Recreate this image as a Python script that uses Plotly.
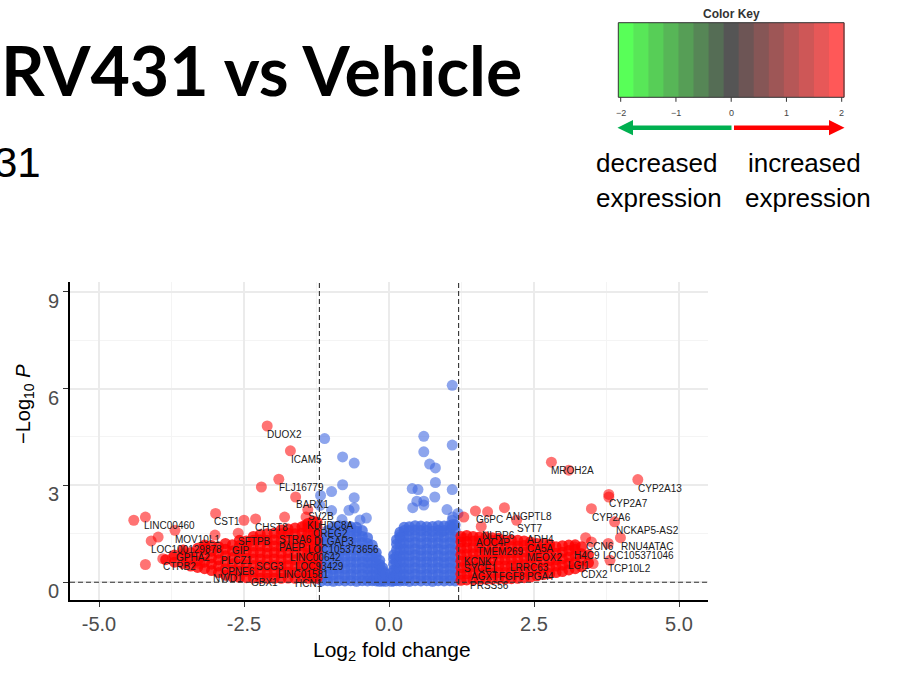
import plotly.graph_objects as go

# ---------------- data ----------------
x_tick_vals = [-5.0, -2.5, 0.0, 2.5, 5.0]
x_tick_text = ["-5.0", "-2.5", "0.0", "2.5", "5.0"]
y_tick_vals = [0, 3, 6, 9]
fc_cutoff = 1.2
p_line = 0.0

# isolated significant genes (red)
red_x = [-2.10, -1.70, -1.90, -2.20, -1.61, -1.40, -1.43, -1.80, -2.30, -2.50, -2.99, -2.60, -3.00,
         -4.40, -4.20, -3.69, -3.98, -4.10, -4.20, -3.90, -3.18, -3.26, -3.54, -1.45, -3.73, -3.49,
         2.80, 3.10, 4.29, 3.79, 3.79, 3.49, 3.89, 3.99, 3.39, 1.99, 1.70, 1.49, 1.29, 1.59, 2.20,
         1.29, 3.49, 3.78, 3.81, 3.52, 3.20]
red_y = [4.84, 4.07, 3.19, 2.95, 2.64, 2.25, 2.02, 2.02, 1.96, 1.92, 2.13, 1.52, 1.46,
         1.92, 2.02, 1.61, 1.40, 1.28, 0.55, 0.73, 1.11, 0.58, 0.89, 1.76, 0.77, 0.62,
         3.72, 3.47, 3.18, 2.72, 2.64, 2.28, 1.87, 1.38, 1.38, 2.31, 2.18, 2.21, 2.02, 1.73, 1.92,
         1.37, 1.25, 1.20, 0.68, 0.58, 1.09]

# dense cloud of significant genes (red), read column by column
red_cloud_x = [-3.85, -3.70, -3.55, -3.42, -3.30, -3.18, -3.06, -2.94, -2.82, -2.70, -2.58, -2.46,
               -2.34, -2.22, -2.10, -1.98, -1.86, -1.74, -1.62, -1.50, -1.40, -1.31, -1.24,
               1.24, 1.34, 1.45, 1.56, 1.67, 1.78, 1.89, 2.00, 2.11, 2.22, 2.33, 2.44, 2.55,
               2.66, 2.77, 2.88, 2.99, 3.10, 3.21, 3.32, 3.44]
red_cloud_y = [
    [0.70], [0.62, 0.84], [0.58, 0.80, 1.00], [0.50, 0.72, 0.92], [0.46, 0.66, 0.86, 1.05],
    [0.42, 0.62, 0.82, 1.02, 1.15], [0.36, 0.56, 0.76, 0.96, 1.14], [0.30, 0.50, 0.70, 0.90, 1.10],
    [0.22, 0.42, 0.62, 0.82, 1.02, 1.20], [0.17, 0.37, 0.57, 0.77, 0.97, 1.16],
    [0.15, 0.35, 0.55, 0.75, 0.95, 1.14, 1.30], [0.14, 0.34, 0.54, 0.74, 0.94, 1.12, 1.28],
    [0.13, 0.32, 0.52, 0.72, 0.92, 1.12, 1.30, 1.42], [0.12, 0.32, 0.52, 0.72, 0.92, 1.12, 1.32, 1.48],
    [0.12, 0.30, 0.50, 0.70, 0.90, 1.10, 1.30, 1.50], [0.12, 0.32, 0.52, 0.72, 0.92, 1.12, 1.32, 1.52],
    [0.12, 0.30, 0.50, 0.70, 0.90, 1.10, 1.30, 1.50, 1.62], [0.13, 0.32, 0.52, 0.72, 0.92, 1.12, 1.32, 1.52, 1.65],
    [0.12, 0.30, 0.50, 0.70, 0.90, 1.10, 1.30, 1.50, 1.68], [0.13, 0.32, 0.52, 0.72, 0.92, 1.12, 1.32, 1.52, 1.72],
    [0.12, 0.30, 0.50, 0.70, 0.90, 1.10, 1.30, 1.50, 1.70, 1.82],
    [0.13, 0.32, 0.52, 0.72, 0.92, 1.12, 1.32, 1.52, 1.72, 1.90],
    [0.12, 0.30, 0.50, 0.70, 0.90, 1.10, 1.30, 1.50, 1.70, 1.86],
    [0.06, 0.25, 0.45, 0.65, 0.85, 1.05, 1.25, 1.42], [0.07, 0.26, 0.46, 0.66, 0.86, 1.06, 1.26, 1.45],
    [0.08, 0.28, 0.48, 0.68, 0.88, 1.08, 1.28, 1.42], [0.09, 0.28, 0.48, 0.68, 0.88, 1.08, 1.28, 1.40],
    [0.10, 0.30, 0.50, 0.70, 0.90, 1.10, 1.30, 1.40], [0.10, 0.29, 0.49, 0.69, 0.89, 1.09, 1.29, 1.38],
    [0.11, 0.30, 0.50, 0.70, 0.90, 1.10, 1.30, 1.36], [0.10, 0.30, 0.50, 0.70, 0.90, 1.10, 1.30],
    [0.11, 0.31, 0.51, 0.71, 0.91, 1.11, 1.31], [0.12, 0.32, 0.52, 0.72, 0.92, 1.12, 1.30],
    [0.14, 0.34, 0.54, 0.74, 0.94, 1.14, 1.28], [0.16, 0.36, 0.56, 0.76, 0.96, 1.16, 1.25],
    [0.20, 0.40, 0.60, 0.80, 1.00, 1.20], [0.24, 0.44, 0.64, 0.84, 1.04, 1.20],
    [0.27, 0.47, 0.67, 0.87, 1.07, 1.18], [0.30, 0.50, 0.70, 0.90, 1.10], [0.33, 0.53, 0.73, 0.93, 1.13],
    [0.38, 0.58, 0.78, 0.98, 1.15], [0.42, 0.62, 0.82, 1.02, 1.16], [0.48, 0.68, 0.88, 1.10],
    [0.60, 0.85], [0.72, 0.98]]

# isolated non-significant genes (blue)
blue_x = [1.09, -1.11, -0.80, -0.60, 0.60, 0.60, 1.09, 0.70, 0.80, 0.80, 0.79, 1.09, -0.80, -0.99,
          -1.18, -0.60, 0.40, 0.50, 0.48, 0.60, 0.60, 0.41, 1.00, 1.19, -0.60, -0.69, -0.39, -0.50,
          -1.19, -0.99, -0.81, 1.09, 0.90, 1.09, 0.18, 1.10, 1.10]
blue_y = [6.10, 4.45, 3.88, 3.69, 4.52, 4.04, 4.25, 3.66, 3.54, 3.09, 2.64, 2.87, 3.02, 2.81,
          2.69, 2.62, 2.90, 2.87, 2.51, 2.51, 2.39, 2.31, 2.25, 2.13, 2.30, 2.23, 1.99, 1.93,
          2.38, 2.22, 1.94, 1.92, 1.56, 1.71, 1.46, 2.02, 1.79]

# dense cloud of non-significant genes (blue), read column by column
blue_cloud_x = [-1.16, -1.06, -0.96, -0.86, -0.76, -0.66, -0.56, -0.46, -0.37, -0.29, -0.22, -0.16,
                -0.11, -0.06, 0.04, 0.08, 0.13, 0.19, 0.26, 0.35, 0.45, 0.55, 0.65, 0.75, 0.85,
                0.95, 1.05, 1.14]
blue_cloud_y = [
    [0.04, 0.22, 0.42, 0.60, 0.80, 1.00, 1.20, 1.40],
    [0.05, 0.24, 0.44, 0.62, 0.83, 1.02, 1.22, 1.42, 1.60],
    [0.03, 0.23, 0.41, 0.61, 0.82, 1.01, 1.21, 1.40, 1.58, 1.72],
    [0.05, 0.25, 0.43, 0.63, 0.84, 1.03, 1.23, 1.43, 1.62, 1.75],
    [0.04, 0.22, 0.42, 0.62, 0.81, 1.00, 1.20, 1.41, 1.60, 1.74],
    [0.05, 0.24, 0.43, 0.63, 0.82, 1.02, 1.22, 1.42, 1.60, 1.72],
    [0.03, 0.23, 0.42, 0.62, 0.81, 1.01, 1.21, 1.40, 1.58, 1.70],
    [0.05, 0.24, 0.44, 0.63, 0.83, 1.03, 1.22, 1.42, 1.60],
    [0.04, 0.22, 0.42, 0.61, 0.80, 1.00, 1.20, 1.38],
    [0.05, 0.23, 0.43, 0.62, 0.82, 1.00, 1.15],
    [0.04, 0.22, 0.42, 0.60, 0.78, 0.92],
    [0.03, 0.20, 0.38, 0.55, 0.68],
    [0.04, 0.20, 0.36, 0.45],
    [0.03, 0.16, 0.26],
    [0.03, 0.15, 0.28],
    [0.04, 0.20, 0.38, 0.56, 0.72, 0.85],
    [0.05, 0.23, 0.42, 0.61, 0.80, 1.00, 1.18, 1.32],
    [0.04, 0.22, 0.42, 0.62, 0.81, 1.00, 1.20, 1.40, 1.55],
    [0.05, 0.24, 0.43, 0.63, 0.83, 1.02, 1.22, 1.42, 1.60, 1.70],
    [0.03, 0.23, 0.42, 0.62, 0.82, 1.01, 1.21, 1.41, 1.60, 1.72],
    [0.05, 0.25, 0.44, 0.64, 0.84, 1.03, 1.23, 1.43, 1.62, 1.75],
    [0.04, 0.22, 0.42, 0.62, 0.81, 1.00, 1.20, 1.41, 1.60, 1.74],
    [0.05, 0.24, 0.43, 0.63, 0.82, 1.02, 1.22, 1.42, 1.60, 1.72],
    [0.03, 0.23, 0.42, 0.62, 0.81, 1.01, 1.21, 1.40, 1.58, 1.73],
    [0.05, 0.24, 0.44, 0.63, 0.83, 1.03, 1.22, 1.42, 1.61, 1.75],
    [0.04, 0.22, 0.42, 0.61, 0.80, 1.00, 1.20, 1.40, 1.60, 1.74],
    [0.05, 0.23, 0.43, 0.62, 0.82, 1.02, 1.22, 1.42, 1.62, 1.76],
    [0.04, 0.22, 0.42, 0.60, 0.80, 1.00, 1.20, 1.40, 1.60, 1.78]]

# gene labels
gene_names = ["DUOX2", "ICAM5", "FLJ16779", "BARX1", "SV2B", "KLHDC8A", "CREG2", "DLGAP3",
              "LOC105373656", "LINC00642", "LOC93429", "LINC01581", "HCN1", "GBX1", "NWD1",
              "CPNE6", "SCG3", "PLCZ1", "GIP", "SFTPB", "STRA6", "PAEP", "CHST8", "CST1",
              "LINC00460", "MOV10L1", "LOC100129878", "GPHA2", "CTRB2",
              "MROH2A", "CYP2A13", "CYP2A7", "CYP2A6", "NCKAP5-AS2", "RNU4ATAC", "LOC105371046",
              "TCP10L2", "CDX2", "LGI1", "H4C9", "CCN6", "ADH4", "CA5A", "MEOX2", "LRRC63",
              "PGA4", "FGF8", "AGXT", "SYCE1", "KCNK7", "PRSS56", "TMEM269", "AOC4P", "NLRP6",
              "SYT7", "G6PC", "ANGPTL8"]
gene_x = [-1.80, -1.42, -1.51, -1.32, -1.18, -1.01, -1.01, -0.95,
          -0.78, -1.26, -1.19, -1.47, -1.38, -2.15, -2.77,
          -2.60, -2.06, -2.62, -2.55, -2.32, -1.61, -1.67, -2.02, -2.79,
          -3.78, -3.31, -3.49, -3.38, -3.61,
          3.17, 4.68, 4.13, 3.84, 4.46, 4.45, 4.31,
          4.15, 3.54, 3.28, 3.42, 3.63, 2.62, 2.61, 2.68, 2.43,
          2.62, 2.12, 1.65, 1.58, 1.59, 1.73, 1.92, 1.80, 1.88,
          2.43, 1.74, 2.41]
gene_y = [4.58, 3.81, 2.92, 2.41, 2.04, 1.76, 1.51, 1.25,
          1.01, 0.76, 0.50, 0.25, -0.04, -0.01, 0.11,
          0.32, 0.50, 0.68, 0.97, 1.25, 1.32, 1.07, 1.69, 1.87,
          1.76, 1.33, 1.01, 0.76, 0.50,
          3.47, 2.90, 2.44, 2.02, 1.61, 1.11, 0.83,
          0.42, 0.25, 0.53, 0.83, 1.11, 1.32, 1.06, 0.76, 0.47,
          0.19, 0.19, 0.19, 0.42, 0.63, -0.09, 0.94, 1.22, 1.46,
          1.68, 1.95, 2.04]

# colour key
key_ticks = [-2, -1, 0, 1, 2]
key_bands = 15

# ---------------- helpers (pixel placement of slide decorations) ----------------
PL, PR, PT, PB = 70, 708, 282, 600


def fx(px):
    return (px - PL) / (PR - PL)


def fy(py):
    return (PB - py) / (PB - PT)


def flatten(cols, ys):
    xs, yy = [], []
    for c, col in zip(cols, ys):
        for v in col:
            xs.append(c)
            yy.append(v)
    return xs, yy


bcx, bcy = flatten(blue_cloud_x, blue_cloud_y)
rcx, rcy = flatten(red_cloud_x, red_cloud_y)

BLUE = "#4169E1"
RED = "#FF0000"
MS = 11

fig = go.Figure()
fig.add_trace(go.Scatter(x=bcx, y=bcy, mode="markers",
                         marker=dict(color=BLUE, size=MS, opacity=0.8, line=dict(width=0)),
                         hoverinfo="skip"))
fig.add_trace(go.Scatter(x=blue_x, y=blue_y, mode="markers",
                         marker=dict(color=BLUE, size=MS, opacity=0.6, line=dict(width=0))))
fig.add_trace(go.Scatter(x=rcx, y=rcy, mode="markers",
                         marker=dict(color=RED, size=MS, opacity=0.8, line=dict(width=0)),
                         hoverinfo="skip"))
fig.add_trace(go.Scatter(x=red_x, y=red_y, mode="markers",
                         marker=dict(color=RED, size=MS, opacity=0.55, line=dict(width=0))))

shapes = []
# cut-off lines
for v in (-fc_cutoff, fc_cutoff):
    shapes.append(dict(type="line", xref="x", yref="paper", x0=v, x1=v, y0=0, y1=1,
                       line=dict(color="#333333", width=1.1, dash="5px,3px"), layer="above"))
shapes.append(dict(type="line", xref="paper", yref="y", x0=0, x1=1, y0=p_line, y1=p_line,
                   line=dict(color="#333333", width=1.1, dash="5px,3px"), layer="above"))

# colour key bar
kx0, kx1, ky0, ky1 = 618.3, 844.0, 22.7, 97.3
bw = (kx1 - kx0) / key_bands
green = (88, 255, 88)
grey = (85, 85, 85)
red = (255, 88, 88)
for i in range(key_bands):
    t = i / (key_bands - 1) * 2 - 1
    if t < 0:
        c = tuple(round(grey[k] + (-t) * (green[k] - grey[k])) for k in range(3))
    else:
        c = tuple(round(grey[k] + t * (red[k] - grey[k])) for k in range(3))
    shapes.append(dict(type="rect", xref="paper", yref="paper",
                       x0=fx(kx0 + i * bw), x1=fx(kx0 + (i + 1) * bw + 0.6),
                       y0=fy(ky1), y1=fy(ky0), line=dict(width=0),
                       fillcolor="rgb(%d,%d,%d)" % c))
shapes.append(dict(type="rect", xref="paper", yref="paper", x0=fx(kx0), x1=fx(kx1),
                   y0=fy(ky1), y1=fy(ky0), line=dict(color="#333333", width=1)))
tx0, tx1 = 620.7, 841.7
for v in key_ticks:
    px = tx0 + (v - key_ticks[0]) / (key_ticks[-1] - key_ticks[0]) * (tx1 - tx0)
    shapes.append(dict(type="line", xref="paper", yref="paper", x0=fx(px), x1=fx(px),
                       y0=fy(ky1), y1=fy(ky1 + 4.5), line=dict(color="#333333", width=1)))

# arrows
ay = 127.7
shapes.append(dict(type="line", xref="paper", yref="paper", x0=fx(631), x1=fx(731.5),
                   y0=fy(ay), y1=fy(ay), line=dict(color="#00B050", width=4.5)))
shapes.append(dict(type="path", xref="paper", yref="paper",
                   path="M %f,%f L %f,%f L %f,%f Z" % (fx(617.5), fy(ay), fx(633), fy(ay - 7.6),
                                                       fx(633), fy(ay + 7.6)),
                   fillcolor="#00B050", line=dict(width=0)))
shapes.append(dict(type="line", xref="paper", yref="paper", x0=fx(734), x1=fx(831),
                   y0=fy(ay), y1=fy(ay), line=dict(color="#FF0000", width=4.5)))
shapes.append(dict(type="path", xref="paper", yref="paper",
                   path="M %f,%f L %f,%f L %f,%f Z" % (fx(844.5), fy(ay), fx(829), fy(ay - 7.6),
                                                       fx(829), fy(ay + 7.6)),
                   fillcolor="#FF0000", line=dict(width=0)))

annotations = []
# gene labels
for n, gx, gy in zip(gene_names, gene_x, gene_y):
    annotations.append(dict(x=gx, y=gy, xref="x", yref="y", text=n, showarrow=False,
                            font=dict(family="Liberation Sans, Arial", size=10, color="#1a1a1a"),
                            xanchor="center", yanchor="middle"))

# axis titles
annotations.append(dict(x=fx(391.5), y=fy(651), xref="paper", yref="paper",
                        text="Log<sub>2</sub> fold change", showarrow=False,
                        font=dict(family="Liberation Sans, Arial", size=21, color="black"),
                        xanchor="center", yanchor="middle"))
annotations.append(dict(x=fx(24), y=fy(404), xref="paper", yref="paper",
                        text="\u2212Log<sub>10</sub> <i>P</i>", showarrow=False, textangle=-90,
                        font=dict(family="Liberation Sans, Arial", size=20, color="black"),
                        xanchor="center", yanchor="middle"))

# slide texts
annotations.append(dict(x=fx(-1), y=fy(69), xref="paper", yref="paper", text="<b>RV431 vs Vehicle</b>",
                        showarrow=False, font=dict(family="Lato", size=68, color="black"),
                        xanchor="left", yanchor="middle"))
annotations.append(dict(x=fx(-8), y=fy(162), xref="paper", yref="paper", text="31",
                        showarrow=False,
                        font=dict(family="Liberation Sans, Arial", size=42, color="black"),
                        xanchor="left", yanchor="middle"))
annotations.append(dict(x=fx(731), y=fy(14), xref="paper", yref="paper", text="<b>Color Key</b>",
                        showarrow=False, font=dict(family="Liberation Sans, Arial", size=12, color="#333333"),
                        xanchor="center", yanchor="middle"))
for v in key_ticks:
    px = tx0 + (v - key_ticks[0]) / (key_ticks[-1] - key_ticks[0]) * (tx1 - tx0)
    annotations.append(dict(x=fx(px), y=fy(113), xref="paper", yref="paper",
                            text=("\u2212%d" % -v) if v < 0 else str(v), showarrow=False,
                            font=dict(family="Liberation Sans, Arial", size=9, color="#444444"),
                            xanchor="center", yanchor="middle"))
for txt, x0, yc in (("decreased", 594, 163), ("expression", 594, 198),
                    ("increased", 745.5, 163), ("expression", 742.5, 198)):
    annotations.append(dict(x=fx(x0), y=fy(yc), xref="paper", yref="paper", text=txt,
                            showarrow=False, font=dict(family="Liberation Sans, Arial", size=26,
                                                       color="black"),
                            xanchor="left", yanchor="middle"))

fig.update_layout(
    width=909, height=680, autosize=False,
    margin=dict(l=PL, r=909 - PR, t=PT, b=680 - PB, pad=0),
    paper_bgcolor="white", plot_bgcolor="white",
    showlegend=False,
    shapes=shapes, annotations=annotations,
    xaxis=dict(range=[-5.5, 5.5], tickvals=x_tick_vals, ticktext=x_tick_text,
               showline=True, linecolor="black", linewidth=1.6, zeroline=False,
               showgrid=True, gridcolor="#EBEBEB", gridwidth=1.6,
               ticks="outside", ticklen=5, tickwidth=1.4, tickcolor="#333333",
               tickfont=dict(family="Liberation Sans, Arial", size=20, color="#4D4D4D"),
               minor=dict(tickvals=[-3.75, -1.25, 1.25, 3.75], showgrid=True,
                          gridcolor="#F4F4F4", gridwidth=0.9, ticks="")),
    yaxis=dict(range=[-0.55, 9.3], tickvals=y_tick_vals,
               showline=True, linecolor="black", linewidth=1.6, zeroline=False,
               showgrid=True, gridcolor="#EBEBEB", gridwidth=1.6,
               ticks="outside", ticklen=5, tickwidth=1.4, tickcolor="#333333",
               ticklabelshift=9,
               tickfont=dict(family="Liberation Sans, Arial", size=20, color="#4D4D4D"),
               minor=dict(tickvals=[1.5, 4.5, 7.5], showgrid=True,
                          gridcolor="#F4F4F4", gridwidth=0.9, ticks="")),
)

fig.write_html("out.html")
